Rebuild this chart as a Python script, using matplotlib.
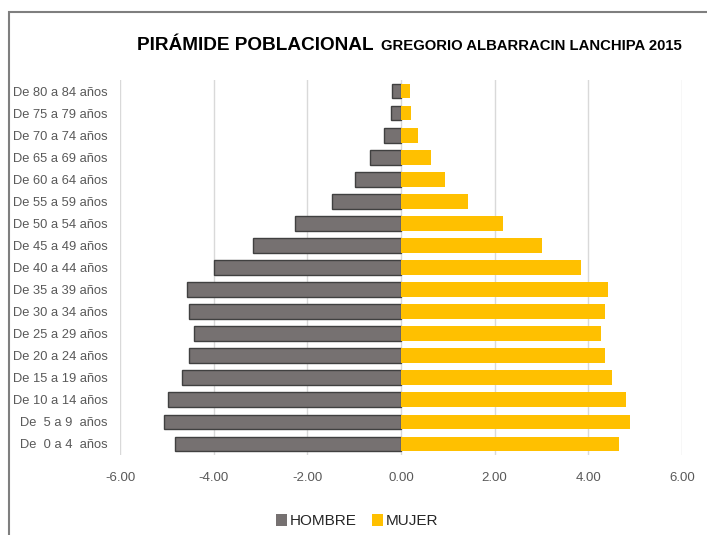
import matplotlib
matplotlib.use("Agg")
import matplotlib.pyplot as plt
from matplotlib.patches import Rectangle, Patch
from matplotlib import font_manager as fm

categories = ["De  0 a 4  años", "De  5 a 9  años", "De 10 a 14 años", "De 15 a 19 años",
              "De 20 a 24 años", "De 25 a 29 años", "De 30 a 34 años", "De 35 a 39 años",
              "De 40 a 44 años", "De 45 a 49 años", "De 50 a 54 años", "De 55 a 59 años",
              "De 60 a 64 años", "De 65 a 69 años", "De 70 a 74 años", "De 75 a 79 años",
              "De 80 a 84 años"]
hombre = [-4.83, -5.07, -4.97, -4.67, -4.52, -4.42, -4.52, -4.57, -3.99, -3.15,
          -2.26, -1.47, -0.98, -0.66, -0.36, -0.22, -0.20]
mujer = [4.65, 4.89, 4.80, 4.50, 4.36, 4.27, 4.36, 4.43, 3.85, 3.02,
         2.18, 1.42, 0.95, 0.65, 0.36, 0.22, 0.20]
xticks = [-6, -4, -2, 0, 2, 4, 6]
xticklabels = ["-6.00", "-4.00", "-2.00", "0.00", "2.00", "4.00", "6.00"]
title_main = "PIRÁMIDE POBLACIONAL"
title_sub = "GREGORIO ALBARRACIN LANCHIPA 2015"

names = {f.name for f in fm.fontManager.ttflist}
narrow = "Liberation Sans Narrow" if "Liberation Sans Narrow" in names else "Liberation Sans"
FAM = [narrow, "DejaVu Sans"]

W, H = 707, 535
fig = plt.figure(figsize=(W / 100, H / 100), dpi=100)
ax = fig.add_axes([120 / W, (H - 455) / H, (682 - 120) / W, (455 - 80) / H])

y = list(range(len(categories)))
ax.barh(y, hombre, height=0.67, color="#767171", edgecolor="#404040", linewidth=1.0, zorder=3, label="HOMBRE")
ax.barh(y, mujer, height=0.67, color="#FFC000", edgecolor="none", zorder=3, label="MUJER")

ax.set_xlim(-6, 6)
ax.set_ylim(-0.5, len(categories) - 0.5)
ax.set_xticks(xticks)
ax.set_xticklabels(xticklabels, family=FAM, fontsize=9.5, color="#595959")
ax.set_yticks(y)
ax.set_yticklabels(categories, family=FAM, fontsize=9.3, color="#595959")
ax.tick_params(axis="both", length=0)
ax.tick_params(axis="y", pad=9)
ax.tick_params(axis="x", pad=12)
ax.grid(axis="x", color="#d9d9d9", linewidth=1, zorder=0)
for s in ax.spines.values():
    s.set_visible(False)

# title: two parts, fitted to the reference widths
renderer = fig.canvas.get_renderer()
t1 = fig.text(137 / W, 1 - 45 / H, title_main, family=FAM, fontsize=15, fontweight="bold",
              ha="left", va="center", color="black")
w1 = t1.get_window_extent(renderer).width
t1.set_fontsize(15 * 238 / w1)
t2 = fig.text(682 / W, 1 - 46 / H, title_sub, family=FAM, fontsize=12, fontweight="bold",
              ha="right", va="center", color="black")
w2 = t2.get_window_extent(renderer).width
t2.set_fontsize(12 * 300 / w2)

# legend
handles = [Patch(facecolor="#767171", edgecolor="none"), Patch(facecolor="#FFC000", edgecolor="none")]
fig.legend(handles, ["HOMBRE", "MUJER"], loc="center", bbox_to_anchor=(357 / W, 1 - 521 / H),
           ncol=2, frameon=False, prop={"family": FAM, "size": 11},
           handlelength=0.7, handleheight=0.9, handletextpad=0.2, columnspacing=1.0,
           labelcolor="#262626")

# outer frame
fig.patches.append(Rectangle((9 / W, -0.1), 1.2, 1 - 12 / H + 0.1, transform=fig.transFigure,
                             fill=False, edgecolor="#7f7f7f", linewidth=1.5))

fig.savefig("out.png", dpi=100)
